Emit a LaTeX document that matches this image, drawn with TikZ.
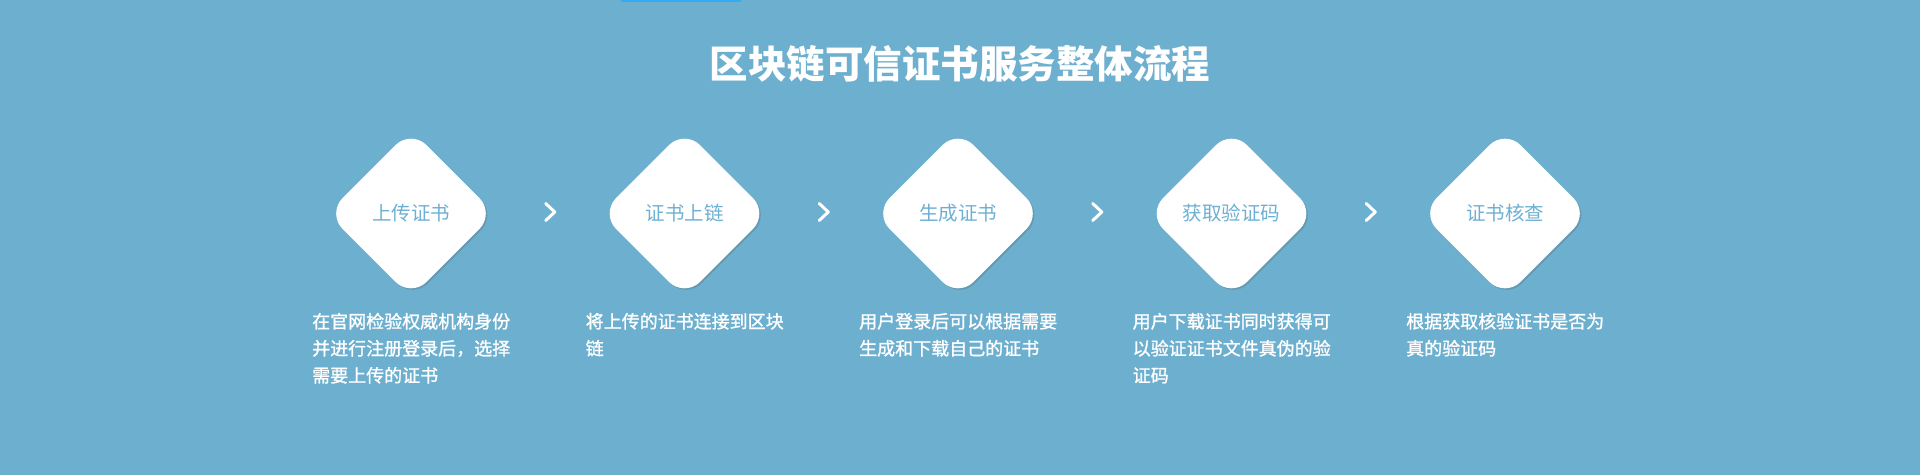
\documentclass[tikz,border=0pt]{standalone}
\usepackage{fontspec}
\newfontfamily\cjk{Noto Sans CJK SC}
\newfontfamily\cjkdesc{Noto Sans CJK SC}[FakeBold=1.2]
\usetikzlibrary{shapes.geometric,shadows,calc}
\definecolor{bgblue}{HTML}{6CAFCF}
\definecolor{barblue}{HTML}{35ABEF}
\definecolor{stepblue}{HTML}{6DB0D3}

\begin{document}
\begin{tikzpicture}[x=1pt,y=1pt,
    stepbox/.style={diamond,fill=white,minimum width=168pt,minimum height=168pt,inner sep=0pt,
      rounded corners=22pt,drop shadow={shadow xshift=1.5pt,shadow yshift=-1.5pt,opacity=.22,fill=black!70},
      text=stepblue,font=\cjk\fontsize{19.5}{22}\selectfont},
    desc/.style={anchor=north west,inner sep=0pt,align=left,text=white,
      font=\cjkdesc\fontsize{18}{27}\selectfont},
    chev/.style={draw=white,line width=3pt,line cap=round,line join=round}]
  \fill[bgblue] (0,0) rectangle (1920,475);
  \useasboundingbox (0,0) rectangle (1920,475);
  \fill[barblue] (621,473) rectangle (741,475);
  \node[text=white,font=\cjk\bfseries\fontsize{38.5}{40}\selectfont] (title) at (960,411) {区块链可信证书服务整体流程};

  \node[stepbox] (s1) at (411,261.5) {上传证书};
  \node[stepbox] (s2) at (684.5,261.5) {证书上链};
  \node[stepbox] (s3) at (958,261.5) {生成证书};
  \node[stepbox] (s4) at (1231.5,261.5) {获取验证码};
  \node[stepbox] (s5) at (1505,261.5) {证书核查};

  \foreach \a/\b in {s1/s2,s2/s3,s3/s4,s4/s5}
    \draw[chev] ($(\a)!.5!(\b)+(-2,10)$) -- ++(9,-8.5) -- ++(-9,-8.5);

  \node[desc] (t1) at ([xshift=-99pt,yshift=-15pt]s1.south) {在官网检验权威机构身份\\并进行注册登录后，选择\\需要上传的证书};
  \node[desc] (t2) at ([xshift=-99pt,yshift=-15pt]s2.south) {将上传的证书连接到区块\\链};
  \node[desc] (t3) at ([xshift=-99pt,yshift=-15pt]s3.south) {用户登录后可以根据需要\\生成和下载自己的证书};
  \node[desc] (t4) at ([xshift=-99pt,yshift=-15pt]s4.south) {用户下载证书同时获得可\\以验证证书文件真伪的验\\证码};
  \node[desc] (t5) at ([xshift=-99pt,yshift=-15pt]s5.south) {根据获取核验证书是否为\\真的验证码};
\end{tikzpicture}
\end{document}
